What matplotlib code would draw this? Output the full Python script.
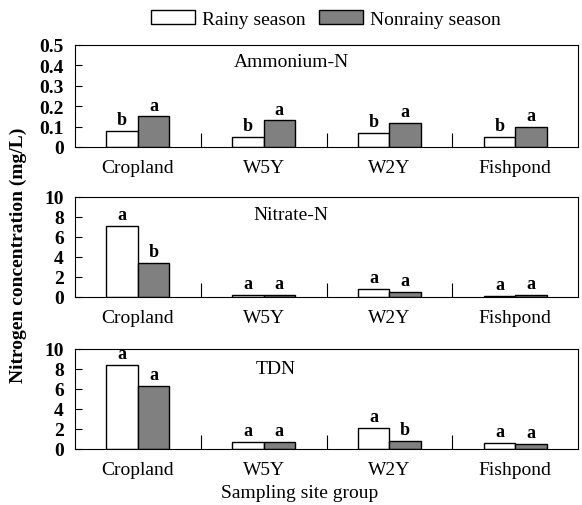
import matplotlib
matplotlib.use("Agg")
import matplotlib.pyplot as plt
import numpy as np
from matplotlib.patches import Patch

plt.rcParams['font.family'] = ['Liberation Serif', 'DejaVu Serif']

sites = ["Cropland", "W5Y", "W2Y", "Fishpond"]
series_names = ["Rainy season", "Nonrainy season"]

ammonium_rainy = [0.08, 0.05, 0.07, 0.05]
ammonium_nonrainy = [0.15, 0.13, 0.12, 0.10]
ammonium_letters_rainy = ["b", "b", "b", "b"]
ammonium_letters_nonrainy = ["a", "a", "a", "a"]

nitrate_rainy = [7.1, 0.2, 0.8, 0.15]
nitrate_nonrainy = [3.4, 0.25, 0.5, 0.2]
nitrate_letters_rainy = ["a", "a", "a", "a"]
nitrate_letters_nonrainy = ["b", "a", "a", "a"]

tdn_rainy = [8.4, 0.7, 2.1, 0.6]
tdn_nonrainy = [6.3, 0.7, 0.8, 0.5]
tdn_letters_rainy = ["a", "a", "a", "a"]
tdn_letters_nonrainy = ["a", "a", "b", "a"]

panels = [
    ("Ammonium-N", ammonium_rainy, ammonium_nonrainy, ammonium_letters_rainy, ammonium_letters_nonrainy,
     [0, 0.1, 0.2, 0.3, 0.4, 0.5], ["0", "0.1", "0.2", "0.3", "0.4", "0.5"], 0.5, (0.43, 0.84)),
    ("Nitrate-N", nitrate_rainy, nitrate_nonrainy, nitrate_letters_rainy, nitrate_letters_nonrainy,
     [0, 2, 4, 6, 8, 10], ["0", "2", "4", "6", "8", "10"], 10, (0.43, 0.82)),
    ("TDN", tdn_rainy, tdn_nonrainy, tdn_letters_rainy, tdn_letters_nonrainy,
     [0, 2, 4, 6, 8, 10], ["0", "2", "4", "6", "8", "10"], 10, (0.40, 0.80)),
]

W, H = 582, 506
fig = plt.figure(figsize=(W / 100, H / 100), dpi=100)

left = 75 / W
width = 503 / W
tops = [46, 198, 350]
bottoms = [148, 298, 450]

white = "#ffffff"
grey = "#808080"
bw = 0.25
x = np.arange(len(sites))

for (title, r, n, lr, ln, yt, ytl, ymax, tpos), t, b in zip(panels, tops, bottoms):
    ax = fig.add_axes([left, 1 - b / H, width, (b - t) / H])
    ax.bar(x - bw / 2, r, bw, color=white, edgecolor="black", linewidth=1.0)
    ax.bar(x + bw / 2, n, bw, color=grey, edgecolor="black", linewidth=1.0)
    for xi, v, s in zip(x - bw / 2, r, lr):
        ax.annotate(s, (xi, v), xytext=(0, 2), textcoords="offset points",
                    ha="center", va="bottom", fontsize=13, fontweight="bold")
    for xi, v, s in zip(x + bw / 2, n, ln):
        ax.annotate(s, (xi, v), xytext=(0, 2), textcoords="offset points",
                    ha="center", va="bottom", fontsize=13, fontweight="bold")
    ax.set_xlim(-0.5, len(sites) - 0.5)
    ax.set_ylim(0, ymax)
    ax.set_yticks(yt)
    ax.set_yticklabels(ytl, fontsize=14, fontweight="bold")
    ax.tick_params(axis="y", direction="in", length=5, width=0.8, pad=8)
    ax.set_xticks([0.5, 1.5, 2.5])
    ax.set_xticklabels([])
    ax.tick_params(axis="x", direction="in", length=10, width=0.8)
    for xi, s in zip(x, sites):
        ax.text(xi, -0.12, s, transform=ax.get_xaxis_transform(), ha="center", va="top", fontsize=14)
    ax.text(tpos[0], tpos[1], title, transform=ax.transAxes, ha="center", va="center", fontsize=14)
    for sp in ax.spines.values():
        sp.set_linewidth(0.8)

handles = [Patch(facecolor=white, edgecolor="black", label=series_names[0]),
           Patch(facecolor=grey, edgecolor="black", label=series_names[1])]
fig.legend(handles=handles, loc="center", bbox_to_anchor=(326 / W, 1 - 20 / H), ncol=2,
           frameon=False, fontsize=14, handlelength=2.26, handleheight=0.72,
           handletextpad=0.4, columnspacing=0.65)

fig.text(18 / W, 1 - 255 / H, "Nitrogen concentration (mg/L)", rotation=90,
         ha="center", va="center", fontsize=14, fontweight="bold")
fig.text(300 / W, 1 - 494 / H, "Sampling site group", ha="center", va="center", fontsize=14)

fig.savefig("out.png", dpi=100)
